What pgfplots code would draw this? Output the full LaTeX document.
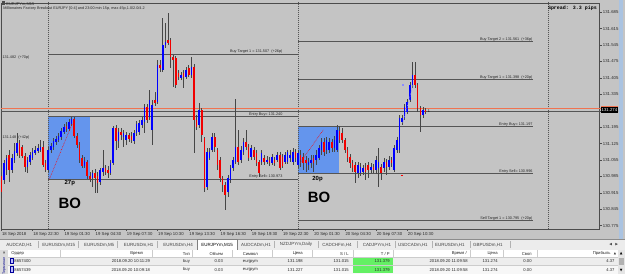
\documentclass[border=0pt]{standalone}
\usepackage{pgfplots}
\pgfplotsset{compat=1.18}
\usepackage{pgfplotstable}
\usepackage{fontspec}
\setmainfont{Liberation Sans}
\newfontfamily\monof{Liberation Mono}
\newfontfamily\dv{DejaVu Sans}
\newcommand\fs[1]{\fontsize{#1}{#1}\selectfont}
\definecolor{chartbg}{RGB}{196,196,196}
\definecolor{wick}{RGB}{70,70,70}
\definecolor{bull}{RGB}{0,0,255}
\definecolor{bear}{RGB}{240,0,0}
\definecolor{lvl}{RGB}{85,85,85}
\definecolor{cur}{RGB}{240,115,80}
\definecolor{cbox}{RGB}{100,149,237}
\definecolor{lav}{RGB}{140,140,255}
\definecolor{framebl}{RGB}{170,195,225}
\definecolor{tabbg}{RGB}{236,236,236}
\definecolor{tpgreen}{RGB}{100,240,100}
\definecolor{txt}{RGB}{40,40,40}

\pgfplotstableread{
n o h l c
-18 130.987 131.004 130.893 130.919
-17 130.970 131.055 130.953 131.043
-16 131.013 131.077 130.992 131.064
-15 131.077 131.098 130.962 131.013
-14 131.013 131.081 131.000 131.064
-13 131.055 131.128 131.043 131.094
-12 131.085 131.171 131.073 131.128
-11 131.128 131.141 131.064 131.077
-10 131.111 131.119 131.064 131.073
-9 131.073 131.085 131.004 131.026
-8 131.026 131.068 131.000 131.055
-7 131.047 131.090 131.034 131.077
-6 131.064 131.107 131.055 131.090
-5 131.085 131.115 131.077 131.098
-4 131.094 131.124 131.085 131.107
-3 131.098 131.141 131.090 131.111
-2 131.111 131.136 131.026 131.034
-1 131.043 131.055 131.004 131.013
0 131.013 131.111 131.004 131.098
1 131.098 131.128 131.085 131.115
2 131.111 131.149 131.098 131.136
3 131.132 131.158 131.119 131.145
4 131.141 131.171 131.132 131.158
5 131.154 131.192 131.141 131.179
6 131.175 131.209 131.166 131.196
7 131.200 131.217 131.175 131.188
8 131.188 131.230 131.179 131.217
9 131.209 131.239 131.200 131.230
10 131.230 131.239 131.149 131.158
11 131.158 131.171 131.107 131.119
12 131.119 131.132 131.043 131.055
13 131.064 131.077 131.021 131.030
14 131.030 131.068 131.021 131.051
15 131.047 131.055 130.975 130.987
16 130.987 131.004 130.962 130.975
17 130.979 131.013 130.941 131.000
18 131.000 131.017 130.915 130.979
19 130.987 131.004 130.915 130.958
20 130.962 131.021 130.949 131.013
21 131.004 131.098 130.987 131.021
22 131.021 131.034 130.992 131.004
23 131.013 131.030 130.979 131.000
24 131.000 131.055 130.992 131.043
25 131.043 131.200 131.034 131.192
26 131.192 131.205 131.098 131.136
27 131.136 131.192 131.107 131.175
28 131.175 131.192 131.141 131.162
29 131.154 131.183 131.111 131.171
30 131.141 131.175 131.119 131.162
31 131.162 131.171 131.132 131.145
32 131.158 131.175 131.128 131.141
33 131.136 131.183 131.124 131.171
34 131.171 131.222 131.158 131.209
35 131.175 131.226 131.162 131.213
36 131.205 131.239 131.192 131.226
37 131.217 131.294 131.171 131.281
38 131.281 131.294 131.213 131.226
39 131.239 131.354 131.226 131.311
40 131.183 131.311 131.119 131.290
41 131.311 131.345 131.286 131.298
42 131.303 131.482 131.294 131.460
43 131.460 131.482 131.431 131.448
44 131.439 131.661 131.431 131.546
45 131.546 131.639 131.533 131.558
46 131.567 131.682 131.546 131.554
47 131.567 131.575 131.448 131.494
48 131.494 131.503 131.367 131.482
49 131.490 131.499 131.362 131.375
50 131.426 131.439 131.396 131.409
51 131.405 131.431 131.396 131.418
52 131.426 131.439 131.362 131.409
53 131.409 131.452 131.401 131.439
54 131.448 131.460 131.409 131.418
55 131.418 131.494 131.405 131.452
56 131.452 131.465 131.085 131.226
57 131.226 131.247 131.183 131.196
58 131.205 131.298 131.192 131.268
59 131.268 131.277 131.132 131.162
60 131.149 131.154 130.919 130.936
61 130.941 131.107 130.928 131.090
62 131.064 131.107 131.055 131.090
63 131.098 131.171 131.090 131.154
64 131.154 131.171 131.090 131.111
65 131.098 131.107 131.013 131.034
66 131.055 131.068 130.962 130.979
67 130.979 130.987 130.919 130.949
68 130.949 130.962 130.842 130.906
69 130.919 130.992 130.898 130.979
70 130.970 131.034 130.958 131.021
71 131.021 131.068 131.009 131.055
72 131.047 131.315 131.038 131.111
73 131.111 131.183 131.034 131.047
74 131.055 131.115 131.043 131.098
75 131.090 131.149 131.077 131.132
76 131.132 131.183 131.098 131.111
77 131.111 131.124 131.051 131.064
78 131.068 131.119 131.055 131.107
79 131.098 131.111 131.055 131.068
80 131.085 131.098 131.030 131.043
81 131.047 131.055 130.983 131.000
82 131.047 131.098 131.034 131.085
83 131.064 131.077 131.034 131.047
84 131.047 131.073 131.038 131.055
85 131.055 131.068 131.030 131.043
86 131.043 131.081 131.034 131.068
87 131.055 131.068 131.030 131.043
88 131.055 131.090 131.047 131.077
89 131.077 131.090 131.013 131.021
90 131.068 131.081 131.021 131.030
91 131.047 131.090 131.038 131.077
92 131.047 131.098 131.038 131.090
93 131.064 131.098 131.047 131.077
94 131.047 131.107 131.034 131.090
95 131.090 131.102 131.047 131.064
96 131.034 131.098 131.021 131.085
97 131.077 131.098 131.026 131.055
98 131.068 131.085 131.013 131.043
99 131.055 131.073 131.004 131.043
100 131.034 131.064 131.013 131.047
101 131.043 131.077 131.021 131.055
102 131.064 131.077 131.004 131.043
103 131.055 131.098 131.034 131.077
104 131.064 131.119 131.055 131.107
105 131.098 131.149 131.077 131.132
106 131.132 131.149 131.073 131.090
107 131.098 131.154 131.081 131.141
108 131.098 131.149 131.085 131.132
109 131.132 131.145 131.090 131.107
110 131.107 131.158 131.090 131.141
111 131.098 131.205 131.090 131.183
112 131.179 131.200 131.128 131.141
113 131.171 131.192 131.128 131.141
114 131.141 131.149 131.085 131.098
115 131.098 131.111 131.047 131.064
116 131.068 131.081 131.021 131.043
117 131.043 131.055 131.004 131.021
118 131.034 131.047 130.958 131.004
119 131.000 131.047 130.979 131.034
120 131.000 131.043 130.987 131.026
121 131.004 131.034 130.992 131.021
122 131.026 131.043 130.970 131.004
123 131.034 131.047 130.979 131.013
124 131.013 131.043 131.000 131.026
125 131.026 131.038 131.000 131.013
126 131.013 131.073 130.996 131.055
127 131.021 131.107 130.941 131.047
128 131.026 131.038 130.970 131.000
129 131.021 131.064 131.004 131.047
130 131.047 131.060 130.992 131.026
131 131.026 131.073 131.013 131.055
132 131.055 131.068 131.026 131.043
133 131.013 131.119 131.004 131.107
134 131.098 131.154 131.085 131.141
135 131.098 131.247 131.085 131.234
136 131.217 131.247 131.205 131.234
137 131.234 131.294 131.226 131.281
138 131.260 131.315 131.251 131.303
139 131.311 131.388 131.303 131.375
140 131.375 131.473 131.362 131.418
141 131.418 131.473 131.362 131.375
142 131.375 131.384 131.260 131.277
143 131.277 131.286 131.175 131.247
144 131.247 131.281 131.234 131.268
145 131.268 131.277 131.251 131.260
}\candles

\begin{document}
\begin{tikzpicture}
\begin{scope}[x=1bp,y=-1bp]
\useasboundingbox (0,0) rectangle (625,274);
\fill[chartbg] (0,0) rectangle (625,240);
\fill[framebl] (619,0) rectangle (623,240);
\end{scope}

\begin{axis}[at={(1bp,-229bp)}, anchor=south west, scale only axis,
  width=599bp, height=226bp,
  xmin=-18.05, xmax=211.98, ymin=130.7613, ymax=131.7246,
  axis background/.style={fill=chartbg},
  axis line style={draw=black!70, line width=0.6bp},
  tick style={draw=black!70, line width=0.4bp},
  tick align=outside, major tick length=2bp,
  xtick pos=bottom, ytick pos=right,
  xtick={-18,-6,6,18,30,42,54,66,78,90,102,114,126,138},
  xticklabels={18 Sep 2018,18 Sep 22:30,19 Sep 01:30,19 Sep 04:30,19 Sep 07:30,19 Sep 10:30,19 Sep 13:30,19 Sep 16:30,19 Sep 19:30,19 Sep 22:30,20 Sep 01:30,20 Sep 04:30,20 Sep 07:30,20 Sep 10:30},
  xticklabel style={anchor=north west, inner sep=0.5bp, yshift=-1bp, font=\fs{4.3}, text=txt},
  ytick={130.775,130.845,130.915,130.985,131.055,131.125,131.195,131.265,131.335,131.405,131.475,131.545,131.615,131.685},
  yticklabel style={anchor=west, inner sep=1bp, font=\fs{4.3}, text=txt, /pgf/number format/.cd, fixed, fixed zerofill, precision=3, 1000 sep={}, assume math mode=true},
  scaled y ticks=false,
]
% breakout boxes
\addplot[fill=cbox, draw=none] coordinates {(0,131.240) (16,131.240) (16,130.973) (0,130.973)} -- cycle;
\addplot[fill=cbox, draw=none] coordinates {(96,131.198) (111.8,131.198) (111.8,130.996) (96,130.996)} -- cycle;
% day separators
\addplot[lvl, line width=0.5bp, dash pattern=on 1bp off 1bp] coordinates {(0,130.70) (0,131.80)};
\addplot[lvl, line width=0.5bp, dash pattern=on 1bp off 1bp] coordinates {(96,130.70) (96,131.80)};
\addplot[lvl, line width=0.5bp, dash pattern=on 1bp off 1bp] coordinates {(192,130.70) (192,131.80)};
% levels, session 1
\addplot[lvl, line width=0.8bp] coordinates {(0,131.507) (96,131.507)};
\addplot[lvl, line width=0.8bp] coordinates {(0,131.240) (96,131.240)};
\addplot[lvl, line width=0.8bp] coordinates {(0,130.973) (96,130.973)};
% levels, session 2
\addplot[lvl, line width=0.8bp] coordinates {(96,131.561) (186.3,131.561)};
\addplot[lvl, line width=0.8bp] coordinates {(96,131.398) (186.3,131.398)};
\addplot[lvl, line width=0.8bp] coordinates {(96,131.198) (186.3,131.198)};
\addplot[lvl, line width=0.8bp] coordinates {(96,130.996) (186.3,130.996)};
\addplot[lvl, line width=0.8bp] coordinates {(96,130.797) (186.3,130.797)};
% price lines
\addplot[lvl, line width=0.6bp] coordinates {(-19,131.264) (213,131.264)};
\addplot[cur, line width=0.8bp] coordinates {(-19,131.274) (213,131.274)};
% candles
\addplot[draw=none, mark=none, error bars/.cd, y dir=plus, y explicit, error mark=none, error bar style={draw=wick, line width=0.5bp}]
  table[x=n, y=l, y error plus expr=\thisrow{h}-\thisrow{l}] {\candles};
\addplot[draw=none, mark=none, restrict expr to domain={\thisrow{c}-\thisrow{o}}{0:5},
  error bars/.cd, y dir=plus, y explicit, error mark=none, error bar style={draw=bull, line width=1.6bp}]
  table[x=n, y=o, y error plus expr=\thisrow{c}-\thisrow{o}] {\candles};
\addplot[draw=none, mark=none, restrict expr to domain={\thisrow{o}-\thisrow{c}}{0:5},
  error bars/.cd, y dir=plus, y explicit, error mark=none, error bar style={draw=bear, line width=1.6bp}]
  table[x=n, y=c, y error plus expr=\thisrow{o}-\thisrow{c}] {\candles};
% dotted helper lines
\addplot[red, line width=0.5bp, dash pattern=on 0.7bp off 0.9bp] coordinates {(0.4,130.972) (9.2,131.209)};
\addplot[red, line width=0.5bp, dash pattern=on 0.7bp off 0.9bp] coordinates {(96.8,131.043) (105.7,131.183)};
\addplot[lav, line width=0.6bp, dash pattern=on 0.7bp off 0.9bp] coordinates {(136.3,131.213) (140.2,131.375)};
\addplot[lav, only marks, mark=square*, mark size=0.5bp] coordinates {(136.2,131.377)};
\addplot[red, line width=0.6bp] coordinates {(135.5,130.990) (136.4,130.990)};
% level labels
\begin{scope}[every node/.style={anchor=south east, inner sep=0.3bp, font=\fs{3.8}, text=txt}]
\node at (axis cs:90.2,131.507) {Buy Target 1 = 131.507 \ (+26p)};
\node at (axis cs:90.2,131.240) {Entry Buy= 131.240};
\node at (axis cs:90.2,130.973) {Entry Sell= 130.973};
\node at (axis cs:186.3,131.561) {Buy Target 2 = 131.561 \ (+36p)};
\node at (axis cs:186.3,131.398) {Buy Target 1 = 131.398 \ (+20p)};
\node at (axis cs:186.3,131.198) {Entry Buy= 131.197};
\node at (axis cs:186.3,130.996) {Entry Sell= 130.996};
\node at (axis cs:186.3,130.797) {Sell Target 1 = 130.795 \ (+20p)};
\end{scope}
\node[anchor=west, inner sep=0pt, font=\fs{3.8}, text=txt] at (axis cs:-17.6,131.494) {131.482 \ (+70p)};
\node[anchor=west, inner sep=0pt, font=\fs{3.8}, text=txt] at (axis cs:-17.6,131.149) {131.148 \ (+42p)};
\node[font=\bfseries\fs{6}, inner sep=0pt] at (axis cs:8.3,130.956) {27p};
\node[font=\bfseries\fs{15}, inner sep=0pt] at (axis cs:8.3,130.872) {BO};
\node[font=\bfseries\fs{6}, inner sep=0pt] at (axis cs:103.5,130.973) {20p};
\node[font=\bfseries\fs{15}, inner sep=0pt] at (axis cs:104.1,130.894) {BO};
\node[font=\fs{3.8}, inner sep=0pt, anchor=west] at (axis cs:145.8,131.262) {1};
\end{axis}

\begin{scope}[x=1bp,y=-1bp]
% title texts
\fill[black!70] (1.5,1.5) rectangle (4.5,5.5);
\node[anchor=west, inner sep=0pt, font=\fs{4}, text=txt] at (6,4) {EURJPYm,M15};
\node[anchor=west, inner sep=0pt, font=\fs{3.8}, text=txt] at (3,8.7) {Millionaires Factory Breakout EURJPY [0-4] and 23:00 min 15p, max 45p,1.0/2.0/4.2};
\node[anchor=west, inner sep=0pt, font=\monof\bfseries\fs{5}] at (548,8) {Spread: 3.3 pips};
% current price box
\draw[cur, line width=0.8bp] (600,108.5) -- (603,108.5);
\fill[black] (601,106.3) rectangle (618.5,113.3);
\draw[cur, line width=0.6bp] (601,106.3) -- (618.5,106.3);
\node[anchor=center, inner sep=0pt, font=\fs{4.3}, text=white] at (609.7,109.9) {131.274};
% strip border
\draw[black!45, line width=0.5bp] (0,239.5) -- (625,239.5);
% tabs
\fill[tabbg] (0,240) rectangle (625,250);
\fill[white] (197,239.6) rectangle (237,250);
\draw[black!50, line width=0.4bp] (197,250) -- (197,239.6) -- (237,239.6) -- (237,250);
\foreach \x in {38,78,117,157,274,318,357,395,432,470,510}{\draw[black!30, line width=0.4bp] (\x,241.5) -- (\x,248.5);}
\begin{scope}[every node/.style={inner sep=0pt, font=\fs{4.5}, text=black!75}]
\node at (19,245) {AUDCAD,H1};
\node at (58.5,245) {EURUSDm,M15};
\node at (99,245) {EURUSDm,M5};
\node at (138.5,245) {EURUSDm,H1};
\node at (178,245) {EURUSDm,H4};
\node[text=black] at (217,245) {EURJPYm,M15};
\node at (256,245) {AUDCADm,H1};
\node at (296,245) {NZDJPYm,Daily};
\node at (337,245) {CADCHFm,H4};
\node at (377,245) {CADJPYm,H1};
\node at (413,245) {USDCADm,H1};
\node at (450,245) {EURUSDm,H1};
\node at (488,245) {GBPUSDm,H1};
\node[font=\dv\fs{3.5}] at (611,245) {◀};
\node[font=\dv\fs{3.5}] at (617,245) {▶};
\end{scope}
\draw[black!40, line width=0.4bp] (0,250) -- (625,250);
% table
\fill[white] (8,250.2) rectangle (618,257.5);
\fill[black!7] (8,257.5) rectangle (618,265.7);
\fill[black!3] (8,265.7) rectangle (618,274);
\fill[tpgreen] (353.5,258) rectangle (393,265.3);
\fill[tpgreen] (353.5,266.2) rectangle (393,273.5);
\foreach \x in {60,152,192,232,272,312,353,393,470,503,537}{\draw[black!20, line width=0.4bp] (\x,250.5) -- (\x,257.2);}
\draw[black!20, line width=0.4bp] (8,257.5) -- (618,257.5);
\draw[black!20, line width=0.4bp] (8,265.7) -- (618,265.7);
% left terminal strip
\fill[black!14] (0,250.2) rectangle (8,274);
\node[inner sep=0pt, font=\fs{4.5}] at (4,253.5) {×};
\node[inner sep=0pt, font=\fs{3.6}, text=blue!55!black, rotate=90] at (4,266) {Терминал};
% scrollbar
\fill[black!10] (618,250.2) rectangle (625,274);
\fill[black!30] (619,258) rectangle (624,265);
\node[inner sep=0pt, font=\dv\fs{3.5}] at (621.5,253.5) {▲};
\node[inner sep=0pt, font=\dv\fs{3.5}] at (621.5,271) {▼};
% icons
\foreach \yy in {258.5,266.7}{\fill[blue!25] (9.5,\yy) rectangle (12.8,\yy+5.2); \draw[blue!60!black, line width=0.3bp] (9.5,\yy) rectangle (12.8,\yy+5.2);}
\begin{scope}[every node/.style={inner sep=0pt, font=\fs{4.2}, text=black!85, anchor=east}]
% header
\node[anchor=west] at (11,253.8) {Ордер};
\node at (143,253.8) {Время};
\node at (190,253.8) {Тип};
\node at (223,253.8) {Объем};
\node at (258,253.8) {Символ};
\node at (303,253.8) {Цена};
\node at (349,253.8) {S / L};
\node at (390,253.8) {T / P};
\node at (467,253.8) {Время /};
\node at (498,253.8) {Цена};
\node at (532,253.8) {Своп};
\node at (611,253.8) {Прибыль};
\node[font=\dv\fs{3}] at (616.5,253.8) {▲};
% row 1
\node[anchor=west] at (14,261.7) {8657400};
\node at (150,261.7) {2018.09.20 10:11:29};
\node at (190,261.7) {buy};
\node at (223,261.7) {0.03};
\node at (258,261.7) {eurjpym};
\node at (303,261.7) {131.198};
\node at (349,261.7) {131.015};
\node at (390,261.7) {131.379};
\node at (468,261.7) {2018.09.20 11:09:58};
\node at (498,261.7) {131.274};
\node at (532,261.7) {0.00};
\node at (615,261.7) {4.37};
% row 2
\node[anchor=west] at (14,269.9) {8657439};
\node at (150,269.9) {2018.09.20 10:09:18};
\node at (190,269.9) {buy};
\node at (223,269.9) {0.03};
\node at (258,269.9) {eurjpym};
\node at (303,269.9) {131.227};
\node at (349,269.9) {131.015};
\node at (390,269.9) {131.379};
\node at (468,269.9) {2018.09.20 11:09:58};
\node at (498,269.9) {131.274};
\node at (532,269.9) {0.00};
\node at (615,269.9) {4.37};
\end{scope}
\end{scope}
\end{tikzpicture}
\end{document}
